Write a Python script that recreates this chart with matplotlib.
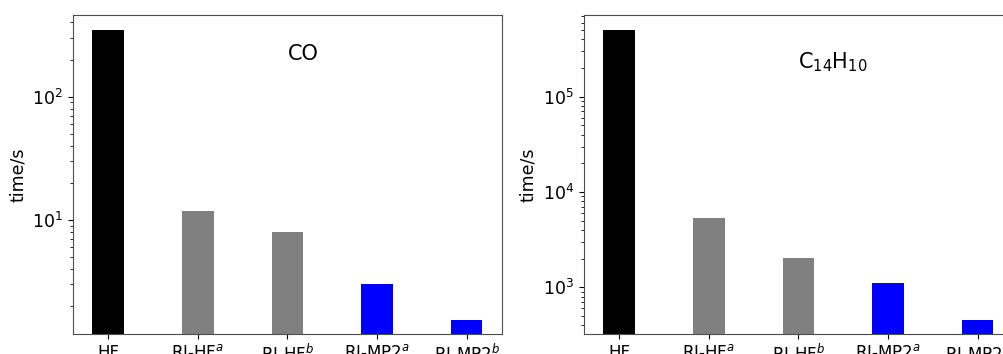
import matplotlib
matplotlib.use("Agg")
import matplotlib.pyplot as plt

# Methods on the x axis
methods = ["HF", "RI-HF$^a$", "RI-HF$^b$", "RI-MP2$^a$", "RI-MP2$^b$"]
bar_colors = ["black", "gray", "gray", "blue", "blue"]

# Timings (seconds)
co_times = [347, 11.9, 7.95, 3.0, 1.55]
c14h10_times = [4.98e5, 5370, 2050, 1117, 451]

fig = plt.figure(figsize=(10.04, 3.54), dpi=100)

# axes placed by hand: the right panel runs off the edge like the original
W, H = 1004, 354
ax_left = fig.add_axes([73 / W, 20 / H, 429 / W, 319 / H])
ax_right = fig.add_axes([584 / W, 20 / H, 429 / W, 319 / H])

panels = [
    (ax_left, co_times, "CO", 200, (1.19, 460)),
    (ax_right, c14h10_times, r"$\mathregular{C_{14}H_{10}}$", 2e5, (324, 7.2e5)),
]

for ax, times, name, text_y, ylim in panels:
    x = range(len(methods))
    ax.bar(x, times, width=0.35, color=bar_colors)
    ax.set_yscale("log")
    ax.set_ylim(*ylim)
    ax.set_xticks(list(x))
    ax.set_xticklabels(methods, fontsize=12)
    ax.tick_params(axis="y", labelsize=12.5)
    ax.set_ylabel("time/s", fontsize=12.5)
    ax.text(2, text_y, name, fontsize=15)
    for s in ax.spines.values():
        s.set_color("0.3")

fig.savefig("out.png", dpi=100)
